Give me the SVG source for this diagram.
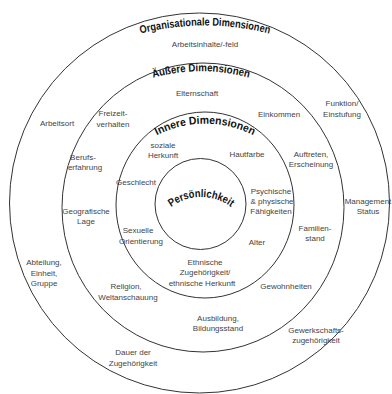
<svg xmlns="http://www.w3.org/2000/svg" width="392" height="394" viewBox="0 0 392 394">
<style>
.ring{fill:none;stroke:#333;stroke-width:1}
.t{font-family:"Liberation Sans",Arial,sans-serif;font-size:8px;fill:#444;text-anchor:middle}
.h{font-family:"Liberation Sans",Arial,sans-serif;font-size:11px;font-weight:bold;fill:#111}
</style>
<defs>
<path id="pOrg" d="M105,45.5 A260,260 0 0 1 305,45.5"/>
<path id="pAus" d="M121,90 A180,180 0 0 1 281,90"/>
<path id="pInn" d="M120,167 A105,105 0 0 1 290,167"/>
<path id="pPer" d="M161,217 A50,50 0 0 1 241,217"/>
</defs>
<rect width="392" height="394" fill="#fff"/>
<g id="organisationale">
<ellipse class="ring" cx="199.5" cy="203" rx="190" ry="190"/>
<text class="h"><textPath href="#pOrg" startOffset="50%" text-anchor="middle" textLength="130" lengthAdjust="spacingAndGlyphs">Organisationale Dimensionen</textPath></text>
<text class="t" x="205" y="46.5">Arbeitsinhalte/-feld</text>
<text class="t" x="57" y="126">Arbeitsort</text>
<text class="t" x="342" y="106">Funktion/</text>
<text class="t" x="342" y="117">Einstufung</text>
<text class="t" x="368" y="204">Management</text>
<text class="t" x="368" y="214">Status</text>
<text class="t" x="44" y="265">Abteilung,</text>
<text class="t" x="44" y="276">Einheit,</text>
<text class="t" x="44" y="286">Gruppe</text>
<text class="t" x="316" y="333">Gewerkschafts-</text>
<text class="t" x="316" y="343">zugehörigkeit</text>
<text class="t" x="133" y="355">Dauer der</text>
<text class="t" x="133" y="366">Zugehörigkeit</text>
</g>
<g id="aeussere">
<ellipse class="ring" cx="203" cy="207.5" rx="141" ry="144.5"/>
<text class="h"><textPath href="#pAus" startOffset="50%" text-anchor="middle" textLength="97" lengthAdjust="spacingAndGlyphs">Äußere Dimensionen</textPath></text>
<text class="t" x="197" y="96">Elternschaft</text>
<text class="t" x="113" y="116">Freizeit-</text>
<text class="t" x="113" y="127">verhalten</text>
<text class="t" x="279" y="117">Einkommen</text>
<text class="t" x="83" y="160">Berufs-</text>
<text class="t" x="85" y="170">erfahrung</text>
<text class="t" x="311" y="157">Auftreten,</text>
<text class="t" x="311" y="167">Erscheinung</text>
<text class="t" x="86" y="214">Geografische</text>
<text class="t" x="86" y="224">Lage</text>
<text class="t" x="315" y="231">Familien-</text>
<text class="t" x="315" y="241">stand</text>
<text class="t" x="126" y="289">Religion,</text>
<text class="t" x="128" y="300">Weltanschauung</text>
<text class="t" x="286" y="289">Gewohnheiten</text>
<text class="t" x="218" y="321">Ausbildung,</text>
<text class="t" x="218" y="331">Bildungsstand</text>
</g>
<g id="innere">
<ellipse class="ring" cx="205" cy="205" rx="89" ry="93"/>
<text class="h"><textPath href="#pInn" startOffset="50%" text-anchor="middle" textLength="100" lengthAdjust="spacingAndGlyphs">Innere Dimensionen</textPath></text>
<text class="t" x="163" y="148">soziale</text>
<text class="t" x="163" y="158">Herkunft</text>
<text class="t" x="247" y="157">Hautfarbe</text>
<text class="t" x="136" y="185">Geschlecht</text>
<text class="t" x="271" y="194">Psychische</text>
<text class="t" x="272" y="204">&amp; physische</text>
<text class="t" x="271" y="214">Fähigkeiten</text>
<text class="t" x="138" y="233">Sexuelle</text>
<text class="t" x="141" y="244">Orientierung</text>
<text class="t" x="257" y="245">Alter</text>
<text class="t" x="205" y="265">Ethnische</text>
<text class="t" x="205" y="275">Zugehörigkeit/</text>
<text class="t" x="202" y="286">ethnische Herkunft</text>
</g>
<g id="persoenlichkeit">
<circle class="ring" cx="200.5" cy="204" r="45.5"/>
<text class="h"><textPath href="#pPer" startOffset="50%" text-anchor="middle" textLength="64" lengthAdjust="spacingAndGlyphs">Persönlichkeit</textPath></text>
</g>
</svg>
